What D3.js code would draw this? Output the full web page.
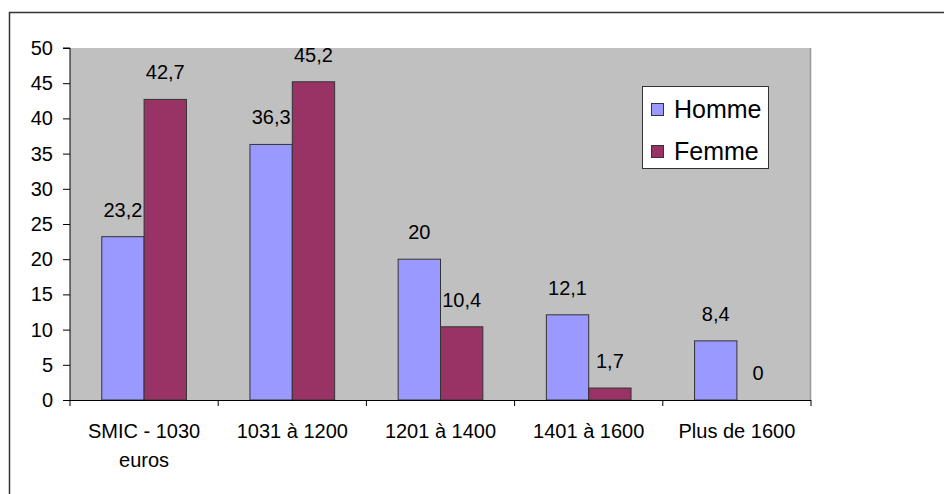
<!DOCTYPE html>
<html>
<head>
<meta charset="utf-8">
<script src="https://cdn.jsdelivr.net/npm/d3@7"></script>
<style>
  html, body { margin: 0; padding: 0; background: #fff; }
  svg { display: block; }
  text { font-family: Arial, "Liberation Sans", sans-serif; fill: #000; }
</style>
</head>
<body>
<script>
const categories = [["SMIC - 1030", "euros"], ["1031 à 1200"], ["1201 à 1400"], ["1401 à 1600"], ["Plus de 1600"]];
const seriesNames = ["Homme", "Femme"];
const homme = [23.2, 36.3, 20, 12.1, 8.4];
const femme = [42.7, 45.2, 10.4, 1.7, 0];
const yTicks = [0, 5, 10, 15, 20, 25, 30, 35, 40, 45, 50];
const colors = ["#9999FF", "#993366"];

const W = 944, H = 494;
const plot = { left: 70, top: 48, right: 811, bottom: 400 };

const svg = d3.select("body").append("svg").attr("width", W).attr("height", H);

// outer chart border
svg.append("rect")
  .attr("x", 9.5).attr("y", 12.5).attr("width", W + 20).attr("height", H + 20)
  .attr("fill", "#fff").attr("stroke", "#333").attr("stroke-width", 1.5);

const x0 = d3.scaleBand().domain(d3.range(categories.length)).range([plot.left, plot.right]).paddingInner(0).paddingOuter(0);
const y = d3.scaleLinear().domain([0, 50]).range([plot.bottom, plot.top]);

// plot area
svg.append("rect")
  .attr("x", plot.left).attr("y", plot.top)
  .attr("width", plot.right - plot.left).attr("height", plot.bottom - plot.top)
  .attr("fill", "#C0C0C0");
svg.append("line")
  .attr("x1", plot.right - 0.5).attr("x2", plot.right - 0.5)
  .attr("y1", plot.top).attr("y2", plot.bottom)
  .attr("stroke", "#999").attr("stroke-width", 1.5);

// bars: gap width 150%
const bw = x0.bandwidth() / 3.5;
const series = [homme, femme];
series.forEach((vals, s) => {
  const g = svg.append("g");
  g.selectAll("rect").data(vals).enter().append("rect")
    .attr("x", (d, i) => x0(i) + bw * 0.75 + s * bw)
    .attr("y", d => y(d))
    .attr("width", bw)
    .attr("height", d => y(0) - y(d))
    .attr("fill", colors[s])
    .attr("stroke", d => d > 0 ? "#333" : "none")
    .attr("stroke-width", 1);
  g.selectAll("text").data(vals).enter().append("text")
    .attr("x", (d, i) => x0(i) + bw * 0.75 + s * bw + bw / 2)
    .attr("y", d => y(d) - 20)
    .attr("text-anchor", "middle")
    .attr("font-size", 20)
    .text(d => String(d).replace(".", ","));
});

// y axis
const yAxis = d3.axisLeft(y).tickValues(yTicks).tickSize(7).tickPadding(10).tickFormat(d3.format("d"));
const ya = svg.append("g").attr("transform", `translate(${plot.left},0)`).call(yAxis);
ya.select(".domain").attr("stroke", "#000").attr("d", `M-7,${plot.top}H0V${plot.bottom}`);
ya.selectAll(".tick line").attr("stroke", "#000");
ya.selectAll(".tick text").attr("font-size", 20).attr("font-family", "Arial, 'Liberation Sans', sans-serif").attr("fill", "#000");

// x axis
const xa = svg.append("g").attr("transform", `translate(0,${plot.bottom})`);
xa.append("line").attr("x1", plot.left).attr("x2", plot.right).attr("y1", 0.5).attr("y2", 0.5).attr("stroke", "#000");
const bounds = d3.range(categories.length + 1).map(i => plot.left + i * x0.bandwidth());
xa.selectAll("line.tk").data(bounds).enter().append("line").attr("class", "tk")
  .attr("x1", d => d).attr("x2", d => d).attr("y1", 0).attr("y2", 6).attr("stroke", "#000");
const labels = xa.selectAll("text.cat").data(categories).enter().append("text").attr("class", "cat")
  .attr("text-anchor", "middle").attr("font-size", 20)
  .attr("x", (d, i) => x0(i) + x0.bandwidth() / 2).attr("y", 38);
labels.selectAll("tspan").data(d => d).enter().append("tspan")
  .attr("x", function() { return d3.select(this.parentNode).attr("x"); })
  .attr("dy", (d, i) => i === 0 ? 0 : 29)
  .text(d => d);

// legend
const lg = svg.append("g");
lg.append("rect").attr("x", 642.5).attr("y", 86.5).attr("width", 126).attr("height", 82)
  .attr("fill", "#fff").attr("stroke", "#333").attr("stroke-width", 1);
seriesNames.forEach((n, i) => {
  lg.append("rect").attr("x", 651.5).attr("y", 103.5 + i * 42).attr("width", 12).attr("height", 12)
    .attr("fill", colors[i]).attr("stroke", "#333");
  lg.append("text").attr("x", 674).attr("y", 117.5 + i * 42).attr("font-size", 25).text(n);
});
</script>
</body>
</html>
